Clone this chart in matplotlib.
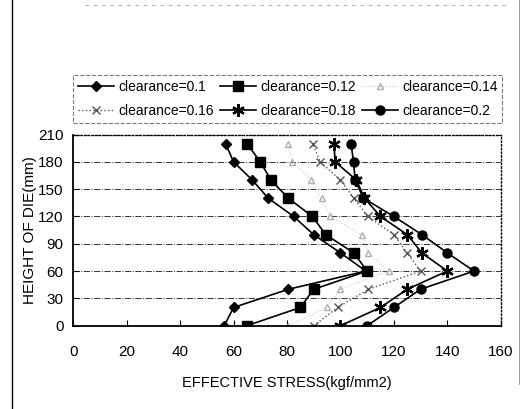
import matplotlib
matplotlib.use("Agg")
import matplotlib.pyplot as plt
from matplotlib.lines import Line2D
from matplotlib import font_manager

heights = [0, 20, 40, 60, 80, 100, 120, 140, 160, 180, 200]

stress_010 = [56.5, 60, 80.5, 109.5, 100, 90, 82.5, 73, 67, 60, 57]
stress_012 = [65, 85, 90, 110, 105, 94.5, 89.5, 80.5, 74, 70, 65]
stress_014 = [80.5, 95, 100, 118, 110.5, 108, 96, 93, 89, 82, 80.5]
stress_016 = [90, 99, 110.5, 130, 125, 120, 110.3, 105, 100, 92.4, 89.7]
stress_018 = [100, 115, 125, 140, 130.5, 125, 115, 109, 106, 98, 97.6]
stress_020 = [110, 120, 130, 150, 140, 130.5, 120, 108.6, 105.5, 104.9, 104]

labels = ["clearance=0.1", "clearance=0.12", "clearance=0.14",
          "clearance=0.16", "clearance=0.18", "clearance=0.2"]

x_ticks = [0, 20, 40, 60, 80, 100, 120, 140, 160]
y_ticks = [0, 30, 60, 90, 120, 150, 180, 210]

installed = {f.name for f in font_manager.fontManager.ttflist}
family = "Liberation Sans Narrow" if "Liberation Sans Narrow" in installed else "Liberation Sans"
plt.rcParams["font.family"] = [family, "DejaVu Sans"]

fig = plt.figure(figsize=(5.22, 4.09), dpi=100)
ax = fig.add_axes([0.1404, 0.2037, 0.8188, 0.4674])

series = [
    (stress_010, dict(color="black", marker="D", markersize=5.5, lw=1.2, ls="-")),
    (stress_012, dict(color="black", marker="s", markersize=6.5, lw=1.2, ls="-")),
    (stress_014, dict(color="#c8c8c8", marker="^", markersize=5, lw=0.8, ls=":",
                      markerfacecolor="none", markeredgecolor="#b0b0b0")),
    (stress_016, dict(color="#555555", marker="x", markersize=6, lw=1.0, ls=":")),
    (stress_018, dict(color="black", marker=(6, 2, 0), markersize=9, lw=1.2, ls="-",
                      markeredgewidth=1.6)),
    (stress_020, dict(color="black", marker="o", markersize=6.5, lw=1.2, ls="-")),
]

handles = []
for (vals, style), lab in zip(series, labels):
    h, = ax.plot(vals, heights, label=lab, **style)
    handles.append(h)

ax.set_xlim(0, 160)
ax.set_ylim(0, 210)
ax.set_xticks(x_ticks)
ax.set_yticks(y_ticks)
ax.tick_params(direction="in", length=4, labelsize=11)
ax.tick_params(axis="x", pad=14)
ax.tick_params(axis="y", pad=7)

ax.grid(axis="y", color="#333333", ls="-.", lw=0.7)
for s in ["top", "right"]:
    ax.spines[s].set_linestyle(":")
    ax.spines[s].set_linewidth(1.0)
for s in ["left", "bottom"]:
    ax.spines[s].set_linewidth(1.3)

ax.set_xlabel("EFFECTIVE STRESS(kgf/mm2)", fontsize=10.5, labelpad=12)
ax.set_ylabel("HEIGHT OF DIE(mm)", fontsize=11, labelpad=1)

order = [0, 3, 1, 4, 2, 5]
leg = fig.legend([handles[i] for i in order], [labels[i] for i in order],
                 ncol=3, loc="lower left", bbox_to_anchor=(0.1404, 0.699, 0.822, 0.11),
                 mode="expand", fontsize=10, frameon=True, fancybox=False,
                 edgecolor="#555555", handlelength=2.6, handletextpad=0.3,
                 borderpad=0.35, labelspacing=0.75, borderaxespad=0)
leg.get_frame().set_linewidth(0.8)
leg.get_frame().set_linestyle("--")

# scan frame lines
fig.add_artist(Line2D([12 / 522, 12 / 522], [0, 1], color="black", lw=1.0))
fig.add_artist(Line2D([519 / 522, 519 / 522], [0.06, 1], color="#888888", lw=0.6))
fig.add_artist(Line2D([85 / 522, 505 / 522], [0.988, 0.988], color="#999999", lw=0.6, ls=(0, (4, 6))))

fig.savefig("out.png", dpi=100)
